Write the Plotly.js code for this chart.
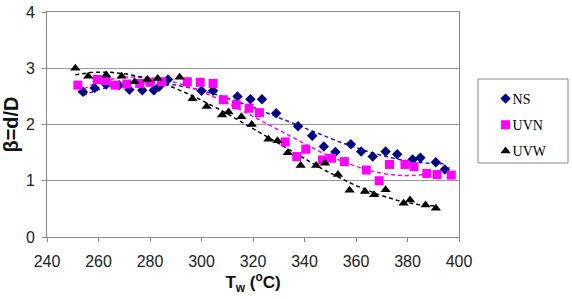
<!DOCTYPE html>
<html>
<head>
<meta charset="utf-8">
<script src="https://cdn.plot.ly/plotly-3.0.1.min.js"></script>
<style>
  html, body { margin: 0; padding: 0; background: #fff; }
  #chart { width: 572px; height: 299px; }
</style>
</head>
<body>
<div id="chart"></div>
<script>
// Wall temperature (°C) and diameter ratio beta = d/D for the three cases
const nsT  = [254, 258.5, 263, 268, 272, 277, 281.5, 283.5, 287, 300, 304.5, 314, 319, 323.5, 329, 337.5, 343, 347.5, 352, 358, 362, 366.5, 371.5, 376, 382, 385, 391, 394.5];
const nsB  = [2.58, 2.65, 2.71, 2.7, 2.62, 2.61, 2.61, 2.67, 2.8, 2.6, 2.6, 2.5, 2.45, 2.45, 2.2, 1.97, 1.8, 1.61, 1.51, 1.65, 1.52, 1.43, 1.52, 1.47, 1.38, 1.41, 1.33, 1.2];

const uvnT = [252, 259.5, 263, 266.5, 271, 276, 280, 284.5, 294.5, 299.5, 304.5, 308.5, 313.5, 318.5, 322.5, 332.5, 337, 340.5, 347, 350.5, 355.5, 364, 369, 373, 379, 382.5, 387.5, 391.5, 397];
const uvnB = [2.7, 2.8, 2.78, 2.7, 2.72, 2.73, 2.75, 2.76, 2.76, 2.75, 2.73, 2.44, 2.35, 2.29, 2.21, 1.69, 1.43, 1.56, 1.37, 1.4, 1.34, 1.19, 1.0, 1.29, 1.29, 1.25, 1.13, 1.11, 1.1];

const uvwT = [251, 256, 263, 269, 274, 279, 283, 291.5, 296.5, 302, 308, 310.5, 315.5, 319.5, 326, 329.5, 333.5, 338.5, 344.5, 348, 353, 357.5, 363.5, 367, 371.5, 378.5, 381, 387, 391];
const uvwB = [3.0, 2.86, 2.88, 2.86, 2.76, 2.8, 2.82, 2.84, 2.46, 2.32, 2.17, 2.22, 2.14, 2.0, 1.74, 1.71, 1.5, 1.27, 1.27, 1.31, 1.11, 0.83, 0.81, 0.75, 0.84, 0.6, 0.66, 0.57, 0.51];

const xTicks = [240, 260, 280, 300, 320, 340, 360, 380, 400];
const yTicks = [0, 1, 2, 3, 4];

// Least-squares polynomial trendline (centred/scaled x for stability)
function polyFit(xs, ys, deg) {
  const c = 320, s = 80;
  const n = deg + 1;
  const A = Array.from({length: n}, () => new Array(n + 1).fill(0));
  xs.forEach((x, k) => {
    const u = (x - c) / s;
    const p = [];
    for (let i = 0; i < n; i++) p.push(Math.pow(u, i));
    for (let i = 0; i < n; i++) {
      for (let j = 0; j < n; j++) A[i][j] += p[i] * p[j];
      A[i][n] += p[i] * ys[k];
    }
  });
  for (let i = 0; i < n; i++) {
    let m = i;
    for (let r = i + 1; r < n; r++) if (Math.abs(A[r][i]) > Math.abs(A[m][i])) m = r;
    [A[i], A[m]] = [A[m], A[i]];
    for (let r = 0; r < n; r++) {
      if (r === i) continue;
      const f = A[r][i] / A[i][i];
      for (let j = i; j <= n; j++) A[r][j] -= f * A[i][j];
    }
  }
  const coef = A.map((row, i) => row[n] / row[i]);
  const lo = Math.min(...xs), hi = Math.max(...xs);
  const tx = [], ty = [];
  for (let k = 0; k <= 120; k++) {
    const x = lo + (hi - lo) * k / 120;
    const u = (x - c) / s;
    tx.push(x);
    ty.push(coef.reduce((acc, a, i) => acc + a * Math.pow(u, i), 0));
  }
  return {x: tx, y: ty};
}

const series = [
  {name: 'NS',  x: nsT,  y: nsB,  color: '#000080', line: '#1f1fd0', symbol: 'diamond',     size: 8},
  {name: 'UVN', x: uvnT, y: uvnB, color: '#ff00ff', line: '#ff00ff', symbol: 'square',      size: 9},
  {name: 'UVW', x: uvwT, y: uvwB, color: '#000000', line: '#000000', symbol: 'triangle-up', size: 9}
];

const traces = [];
series.forEach(s => {
  const fit = polyFit(s.x, s.y, 3);
  traces.push({
    x: fit.x, y: fit.y, mode: 'lines', showlegend: false, hoverinfo: 'skip',
    line: {color: s.line, width: 1.5, dash: '4px,3px'}
  });
});
series.forEach(s => {
  traces.push({
    x: s.x, y: s.y, mode: 'markers', name: s.name, legendgroup: s.name,
    marker: {symbol: s.symbol, size: s.size, color: s.color}
  });
});

const sans = 'Liberation Sans, Arial, sans-serif';
const tickFont = {family: sans, size: 16, color: '#222'};

const layout = {
  width: 572, height: 299,
  margin: {l: 47, r: 113, t: 12, b: 62, autoexpand: false},
  paper_bgcolor: '#fff', plot_bgcolor: '#fff',
  font: tickFont,
  xaxis: {
    range: [240, 400], tickvals: xTicks, ticktext: xTicks.map(String),
    showgrid: false, zeroline: false,
    showline: true, linecolor: '#888', linewidth: 1, mirror: true,
    ticks: 'outside', ticklen: 4, tickcolor: '#888',
    tickfont: tickFont, ticklabelstandoff: 6,
    title: {text: 'T<sub>w</sub> (<sup>o</sup>C)', font: {family: sans, size: 17, color: '#111', weight: 'bold'}, standoff: 2}
  },
  yaxis: {
    range: [0, 4], tickvals: yTicks, ticktext: yTicks.map(String),
    showgrid: true, gridcolor: '#999', gridwidth: 1, zeroline: false,
    showline: true, linecolor: '#888', linewidth: 1, mirror: true,
    ticks: 'outside', ticklen: 4, tickcolor: '#888',
    tickfont: tickFont, ticklabelstandoff: 4,
    title: {text: 'β=d/D', font: {family: sans, size: 20, color: '#111', weight: 'bold'}, standoff: 5}
  },
  // legend frame
  shapes: [{
    type: 'rect', xref: 'paper', yref: 'paper',
    x0: 1.0461, x1: 1.2646, y0: 0.3289, y1: 0.7022,
    line: {color: '#888', width: 1}, fillcolor: '#fff', layer: 'below'
  }],
  legend: {
    x: 1.079, y: 0.6844, xanchor: 'left', yanchor: 'top',
    bgcolor: 'rgba(0,0,0,0)', borderwidth: 0,
    font: {family: 'Liberation Serif, Times New Roman, serif', size: 14, color: '#000'},
    traceorder: 'grouped', tracegroupgap: 5,
    itemwidth: 30
  },
  showlegend: true
};

Plotly.newPlot('chart', traces, layout, {staticPlot: true, displayModeBar: false}).then(gd => {
  // pull the legend labels in close to their symbols
  gd.querySelectorAll('.legend .legendtext').forEach(t => t.setAttribute('x', 27));
  // nudge the legend entries a little to the left inside their frame
  const lg = gd.querySelector('g.legend');
  if (lg) {
    const m = /translate\(\s*([-\d.]+)[ ,]+([-\d.]+)\s*\)/.exec(lg.getAttribute('transform') || '');
    if (m) lg.setAttribute('transform', 'translate(' + (parseFloat(m[1]) - 6) + ',' + m[2] + ')');
  }
});
</script>
</body>
</html>
